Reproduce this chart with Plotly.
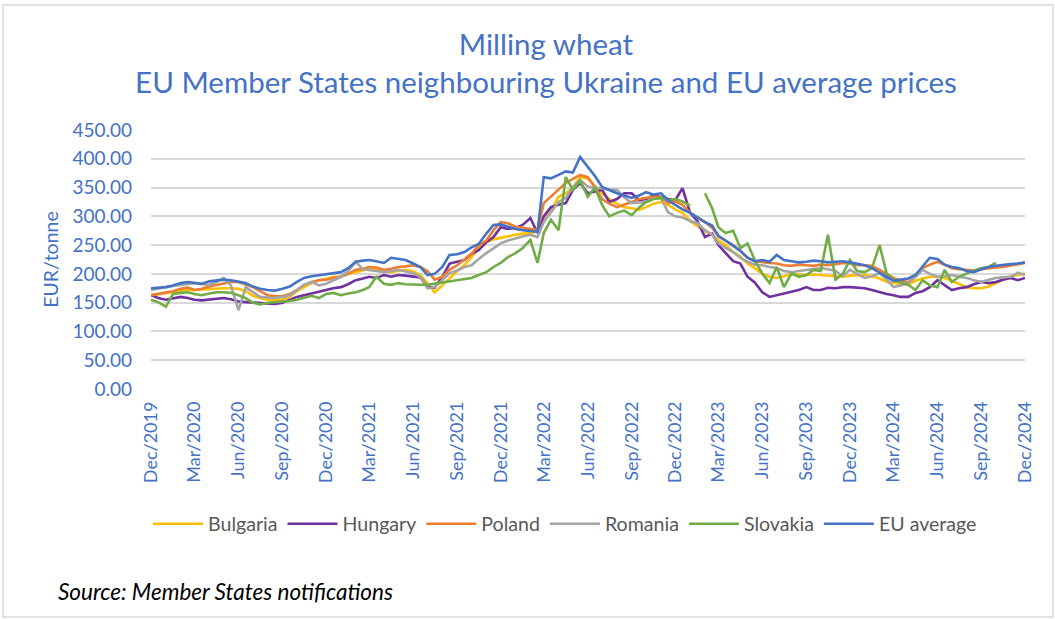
import pandas as pd
import plotly.graph_objects as go

# Semi-monthly observation dates (1st and 16th of each month), Dec 2019 - Dec 2024
month_starts = pd.date_range("2019-12-01", "2024-12-01", freq="MS")
dates = []
for d in month_starts[:-1]:
    dates += [d, d + pd.Timedelta(days=15)]
dates.append(month_starts[-1])

# EUR/tonne
bulgaria = [
    163, 165, 167, 168, 170, 172, 172, 173, 174, 175, 175, 175, 174, 170, 162, 158, 155, 155, 155, 160, 170, 177, 184, 189,
    191, 195, 195, 200, 203, 206, 210, 209, 206, 203, 205, 207, 204, 198, 184, 168, 180, 192, 205, 215, 229, 245, 255, 260,
    263, 265, 268, 270, 271, 274, 290, 310, 334, 340, 350, 368, 366, 352, 340, 330, 322, 316, 314, 311, 316, 322, 325, 320,
    312, 306, 292, 284, 274, 268, 258, 250, 238, 230, 218, 210, 200, 195, 193, 196, 200, 199, 198, 199, 198, 197, 196, 195,
    197, 198, 198, 196, 192, 186, 184, 183, 181, 188, 192, 195, 195, 193, 188, 182, 177, 175, 175, 178, 184, 190, 196, 198,
    201,
]
hungary = [
    163, 158, 155, 157, 160, 158, 155, 154, 155, 156, 158, 156, 152, 151, 150, 149, 149, 148, 150, 155, 160, 163, 166, 168,
    172, 175, 177, 182, 189, 192, 195, 193, 198, 195, 198, 197, 196, 194, 177, 176, 195, 218, 221, 224, 235, 241, 255, 264,
    281, 278, 280, 285, 297, 271, 300, 316, 320, 323, 346, 358, 340, 343, 346, 325, 330, 340, 340, 328, 330, 337, 333, 330,
    328, 349, 306, 292, 264, 270, 250, 236, 222, 218, 195, 185, 168, 160, 163, 165, 168, 172, 177, 172, 172, 176, 175, 177,
    177, 176, 175, 172, 168, 165, 163, 160, 160, 167, 170, 177, 189, 180, 172, 175, 177, 182, 186, 184, 186, 190, 193, 189,
    193,
]
poland = [
    163, 165, 168, 170, 174, 176, 172, 174, 178, 181, 184, 186, 186, 182, 177, 170, 163, 161, 161, 165, 172, 181, 186, 189,
    190, 193, 195, 200, 207, 209, 212, 211, 207, 209, 212, 213, 215, 212, 205, 190, 195, 207, 215, 225, 235, 250, 258, 276,
    290, 288, 282, 280, 278, 276, 323, 335, 346, 358, 365, 372, 368, 351, 330, 322, 316, 320, 325, 330, 332, 334, 334, 323,
    326, 320, 306, 298, 290, 280, 265, 258, 250, 240, 228, 222, 220, 219, 218, 215, 214, 216, 215, 214, 216, 215, 217, 219,
    218, 215, 215, 214, 207, 200, 193, 188, 186, 195, 210, 216, 221, 216, 210, 208, 207, 206, 208, 210, 211, 212, 214, 216,
    219,
]
romania = [
    172, 175, 177, 179, 181, 183, 184, 182, 181, 186, 193, 180, 137, 177, 168, 160, 159, 158, 160, 163, 172, 181, 186, 180,
    183, 189, 195, 205, 221, 208, 207, 205, 203, 205, 207, 204, 201, 195, 175, 177, 190, 201, 206, 212, 215, 226, 236, 245,
    253, 258, 262, 265, 268, 264, 290, 306, 325, 332, 351, 363, 352, 349, 349, 346, 346, 333, 323, 324, 325, 330, 332, 307,
    300, 298, 292, 288, 276, 268, 253, 245, 238, 228, 221, 216, 215, 212, 210, 205, 203, 205, 207, 208, 210, 208, 205, 196,
    207, 200, 193, 196, 201, 190, 177, 180, 184, 195, 207, 200, 195, 196, 198, 195, 193, 189, 186, 190, 193, 194, 195, 202,
    198,
]
slovakia = [
    155, 151, 143, 165, 167, 168, 165, 163, 166, 168, 168, 167, 163, 158, 150, 147, 150, 151, 151, 153, 155, 158, 162, 158,
    165, 167, 163, 166, 168, 172, 177, 195, 183, 181, 184, 182, 181, 181, 181, 183, 184, 186, 189, 191, 193, 198, 203, 212,
    219, 229, 236, 245, 259, 219, 271, 294, 276, 368, 346, 362, 334, 350, 320, 300, 306, 310, 302, 315, 325, 330, 332, 328,
    330, 326, 318, None, 340, 314, 281, 271, 275, 245, 253, 224, 200, 184, 212, 177, 201, 195, 198, 207, 205, 268, 190, 200,
    224, 205, 203, 210, 250, 200, 189, 185, 181, 172, 189, 180, 177, 207, 186, 195, 201, 206, 210, 212, 219, None, None, None,
    None,
]
eu_average = [
    175, 176, 177, 180, 184, 186, 184, 183, 187, 189, 190, 189, 186, 184, 178, 174, 172, 171, 174, 178, 186, 193, 196, 198,
    199, 201, 203, 210, 221, 223, 224, 222, 219, 228, 226, 224, 218, 212, 198, 200, 212, 233, 234, 238, 246, 252, 270, 285,
    286, 282, 278, 276, 274, 273, 368, 366, 372, 378, 376, 403, 386, 370, 351, 345, 340, 336, 332, 336, 342, 338, 340, 328,
    320, 312, 306, 298, 290, 284, 266, 258, 248, 240, 228, 222, 224, 221, 233, 224, 222, 220, 221, 223, 222, 220, 221, 222,
    220, 218, 215, 210, 202, 194, 188, 190, 192, 198, 214, 228, 226, 216, 212, 210, 205, 203, 208, 212, 214, 216, 217, 218,
    220,
]

series = [
    ("Bulgaria", bulgaria, "#FFC000"),
    ("Hungary", hungary, "#7030A0"),
    ("Poland", poland, "#ED7D31"),
    ("Romania", romania, "#A5A5A5"),
    ("Slovakia", slovakia, "#70AD47"),
    ("EU average", eu_average, "#4472C4"),
]

FONT = "Lato"
BLUE = "#4472C4"

fig = go.Figure()
for name, vals, color in series:
    fig.add_trace(go.Scatter(
        x=dates, y=vals, name=name, mode="lines",
        line=dict(color=color, width=2.6),
        connectgaps=False,
    ))

W, H = 1055, 619
L, R, T, B = 151, 30, 130, 230
pw, ph = W - L - R, H - T - B

def px(x):
    return (x - L) / pw

def py(y):
    return (H - B - y) / ph

fig.update_layout(
    width=W, height=H,
    margin=dict(l=L, r=R, t=T, b=B),
    paper_bgcolor="white", plot_bgcolor="white",
    font=dict(family=FONT, color=BLUE),
    title=dict(
        text="Milling wheat<br>EU Member States neighbouring Ukraine and EU average prices",
        font=dict(family=FONT, size=29.5, color=BLUE),
        x=px(546), xref="paper", xanchor="center",
        y=1 - 55 / H, yref="container", yanchor="middle",
    ),
    xaxis=dict(
        type="date",
        range=["2019-12-01", "2024-12-01"],
        tick0="2019-12-01", dtick="M3",
        tickformat="%b/%Y", tickangle=-90,
        tickfont=dict(family=FONT, size=18, color=BLUE),
        showgrid=False, zeroline=False, showline=False,
        ticks="", ticklabelstandoff=8,
    ),
    yaxis=dict(
        range=[0, 450], dtick=50, tickformat=".2f",
        tickfont=dict(family=FONT, size=19, color=BLUE),
        showgrid=True, gridcolor="#D9D9D9", gridwidth=1.6,
        zeroline=False, showline=False, ticks="", ticklabelstandoff=18,
        title=dict(text="EUR/tonne", font=dict(family=FONT, size=19.5, color=BLUE), standoff=8),
    ),
    legend=dict(
        orientation="h", x=px(148), xanchor="left",
        y=py(524), yanchor="middle",
        font=dict(family=FONT, size=19.6, color="#595959"),
        itemwidth=50, traceorder="normal",
        bgcolor="rgba(0,0,0,0)",
    ),
    showlegend=True,
)

fig.add_annotation(
    text="<i>Source: Member States notifications</i>",
    xref="paper", yref="paper", x=px(56), y=py(591),
    xanchor="left", yanchor="middle", showarrow=False,
    font=dict(family=FONT, size=22.5, color="black"),
)

fig.add_shape(
    type="rect", xref="paper", yref="paper",
    x0=px(3), x1=px(1053), y0=py(617), y1=py(5),
    line=dict(color="#D9D9D9", width=1.5), fillcolor="rgba(0,0,0,0)", layer="below",
)

fig.write_html(
    "out.html",
    config={"displayModeBar": False},
    post_script="document.body.style.margin='0';",
)
